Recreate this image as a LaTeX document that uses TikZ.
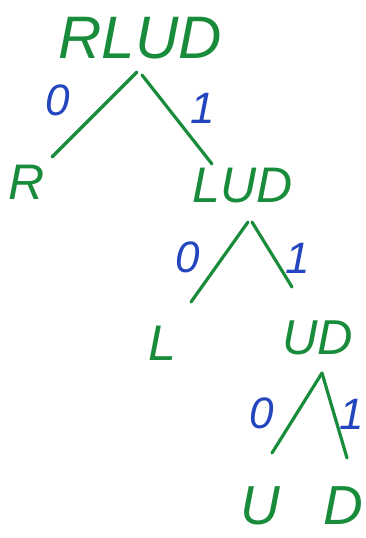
\documentclass[tikz,border=0pt]{standalone}
\usepackage{fontspec}
\setmainfont{Liberation Sans}
\definecolor{pen}{RGB}{25,140,60}
\definecolor{ink}{RGB}{35,70,190}
\begin{document}
\begin{tikzpicture}[x=1pt,y=-1pt,
  lab/.style={text=pen,inner sep=0pt,font=\itshape\fontsize{#1}{#1}\selectfont},
  bit/.style={text=ink,inner sep=0pt,font=\itshape\fontsize{44}{44}\selectfont},
  edge/.style={draw=pen,line width=3.2pt,line cap=round}]
\useasboundingbox (0,0) rectangle (366,538);
% text nodes
\node[lab=60] (rlud) at (140,38) {RLUD};
\node[lab=50] (r) at (27,182) {R};
\node[lab=50] (lud) at (243,186) {LUD};
\node[lab=50] (l) at (162,343) {L};
\node[lab=49] (ud) at (318,338) {UD};
\node[lab=55] (u) at (260,506) {U};
\node[lab=55] (d) at (343,506) {D};
% joints
\coordinate (j0) at (137,72);
\coordinate (j0b) at (142,75);
\coordinate (er) at (52,157);
\coordinate (elud) at (212,164);
\coordinate (j1) at (248,222);
\coordinate (j1b) at (252,222);
\coordinate (el) at (191,302);
\coordinate (eud) at (292,287);
\coordinate (j2) at (322,373);
\coordinate (eu) at (272,453);
\coordinate (ed) at (347,458);
% edges
\draw[edge] (j0) -- (er);
\draw[edge] (j0b) -- (elud);
\draw[edge] (j1) -- (el);
\draw[edge] (j1b) -- (eud);
\draw[edge] (j2) -- (eu);
\draw[edge] (j2) -- (ed);
% bit labels
\node[bit] (b0a) at (58,100) {0};
\node[bit] (b1a) at (203,108) {1};
\node[bit] (b0b) at (188,257) {0};
\node[bit] (b1b) at (298,258) {1};
\node[bit] (b0c) at (262,413) {0};
\node[bit] (b1c) at (352,414) {1};
\end{tikzpicture}
\end{document}
